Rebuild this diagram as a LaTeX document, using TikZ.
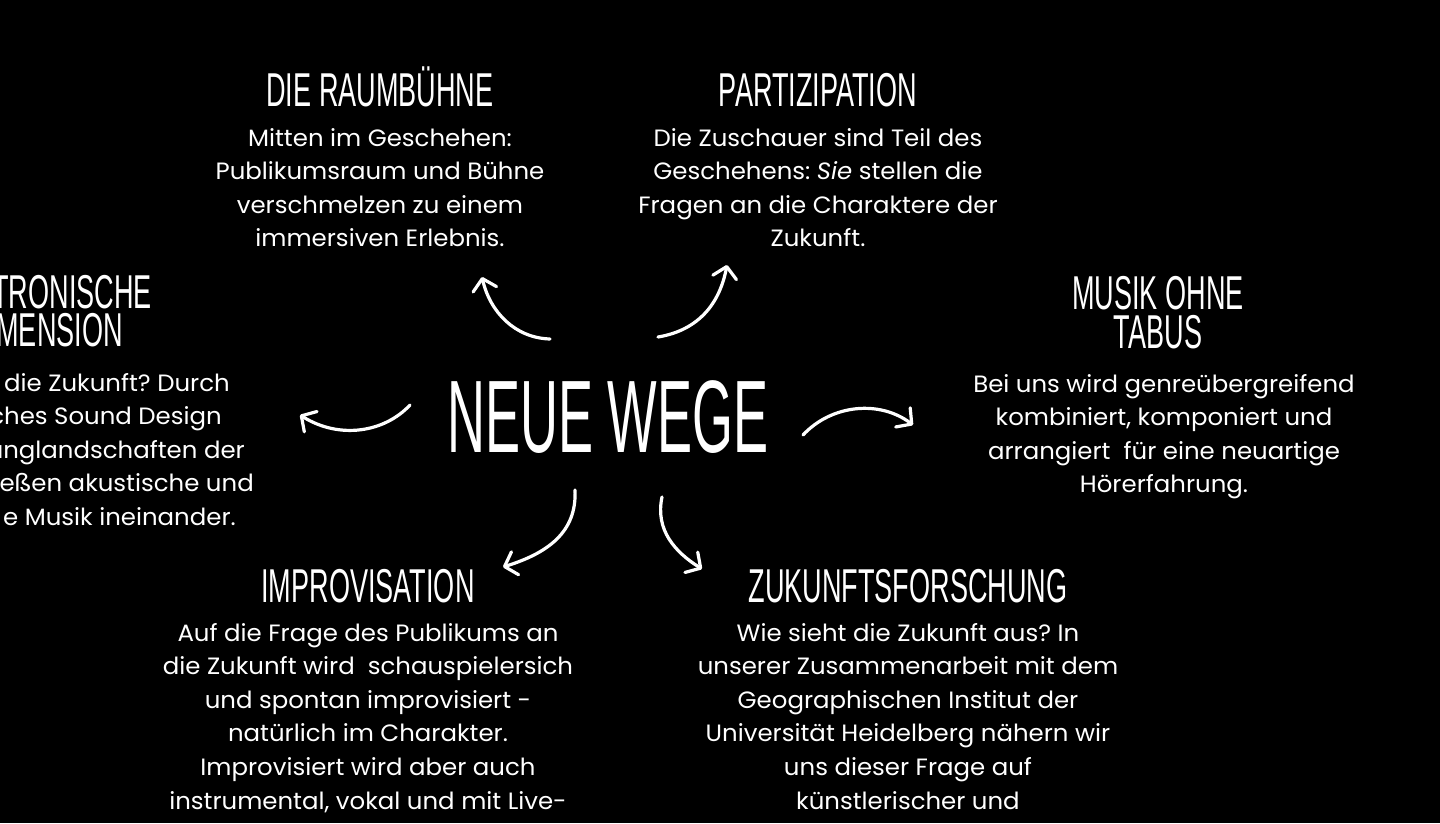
\documentclass[tikz,border=0pt]{standalone}
\usepackage{fontspec}
\setmainfont[FakeStretch=1.035]{Poppins}
\newfontfamily\headfamily[FakeStretch=0.57]{Liberation Sans}
\newfontfamily\titlefamily[FakeStretch=0.51]{Liberation Sans}
\usetikzlibrary{arrows.meta}
\frenchspacing
\newcommand\bodysize{\fontsize{23.6bp}{33.6bp}\selectfont}
\newcommand\headsize{\headfamily\fontsize{47.5bp}{38.5bp}\selectfont}
\newcommand\titlesize{\titlefamily\fontsize{103bp}{110bp}\selectfont}
\begin{document}
\begin{tikzpicture}[x=1bp,y=-1bp,
  body/.style={text=white, align=center, font=\bodysize, inner sep=0pt, anchor=base},
  bodyr/.style={text=white, font=\bodysize, inner sep=0pt, anchor=base east},
  head/.style={text=white, align=center, font=\headsize, inner sep=0pt, anchor=base},
  headr/.style={text=white, font=\headsize, inner sep=0pt, anchor=base east},
  curvearrow/.style={draw=white, line width=3.2bp, line cap=round,
    -{Straight Barb[length=11bp,width=24bp,line width=3.2bp,round]}}]
\useasboundingbox (0,0) rectangle (1440,823);
\fill[black] (0,0) rectangle (1440,823);
\begin{scope}
\clip (0,0) rectangle (1440,823);
% centre
\node[text=white, font=\titlesize, inner sep=0pt, anchor=base] (title) at (608,452) {NEUE WEGE};
% Die Raumbuehne (base anchor = baseline of last line)
\node[head] (raumH) at (380,106) {DIE RAUMBÜHNE};
\node[body] (raumB) at (380,246.8) {Mitten im Geschehen:\\Publikumsraum und Bühne\\verschmelzen zu einem\\immersiven Erlebnis.};
% Partizipation
\node[head] (partH) at (818,106) {PARTIZIPATION};
\node[body] (partB) at (818,246.8) {Die Zuschauer sind Teil des\\Geschehens: \textit{Sie} stellen die\\Fragen an die Charaktere der\\Zukunft.};
% Elektronische Dimension (cut off at left)
\node[headr] (elH1) at (152,308) {TRONISCHE};
\node[headr] (elH2) at (123,346) {MENSION};
\node[bodyr] (elB1) at (230,391) {die Zukunft? Durch};
\node[bodyr] (elB2) at (222,424.6) {ches Sound Design};
\node[bodyr] (elB3) at (245,458.2) {anglandschaften der};
\node[bodyr] (elB4) at (254,491.8) {eßen akustische und};
\node[bodyr] (elB5) at (236,525.4) {e Musik ineinander.};
% Musik ohne Tabus
\node[head] (musH) at (1158,348) {MUSIK OHNE\\TABUS};
\node[body] (musB) at (1164,492.8) {Bei uns wird genreübergreifend\\kombiniert, komponiert und\\arrangiert\ \ für eine neuartige\\Hörerfahrung.};
% Improvisation
\node[head] (impH) at (368,602) {IMPROVISATION};
\node[body] (impB) at (368,809) {Auf die Frage des Publikums an\\die Zukunft wird\ \ schauspielersich\\und spontan improvisiert -\\natürlich im Charakter.\\Improvisiert wird aber auch\\instrumental, vokal und mit Live-};
% Zukunftsforschung
\node[head] (zukH) at (908,602) {ZUKUNFTSFORSCHUNG};
\node[body] (zukB) at (908,809) {Wie sieht die Zukunft aus? In\\unserer Zusammenarbeit mit dem\\Geographischen Institut der\\Universität Heidelberg nähern wir\\uns dieser Frage auf\\künstlerischer und};
% arrow end points
\coordinate (a1s) at (550,339); \coordinate (a1e) at (482,277);
\coordinate (a2s) at (658,337); \coordinate (a2e) at (727,265);
\coordinate (a3s) at (410,405); \coordinate (a3e) at (300,415);
\coordinate (a4s) at (575,490); \coordinate (a4e) at (503,567);
\coordinate (a5s) at (662,497); \coordinate (a5e) at (702,569);
\coordinate (a6s) at (803,435); \coordinate (a6e) at (913,425);
\draw[curvearrow] (a1s) .. controls (515,338) and (490,312) .. (a1e);
\draw[curvearrow] (a2s) .. controls (700,330) and (720,302) .. (a2e);
\draw[curvearrow] (a3s) .. controls (385,432) and (340,440) .. (a3e);
\draw[curvearrow] (a4s) .. controls (577,532) and (548,553) .. (a4e);
\draw[curvearrow] (a5s) .. controls (655,530) and (675,552) .. (a5e);
\draw[curvearrow] (a6s) .. controls (832,404) and (880,400) .. (a6e);
\end{scope}
\end{tikzpicture}
\end{document}
